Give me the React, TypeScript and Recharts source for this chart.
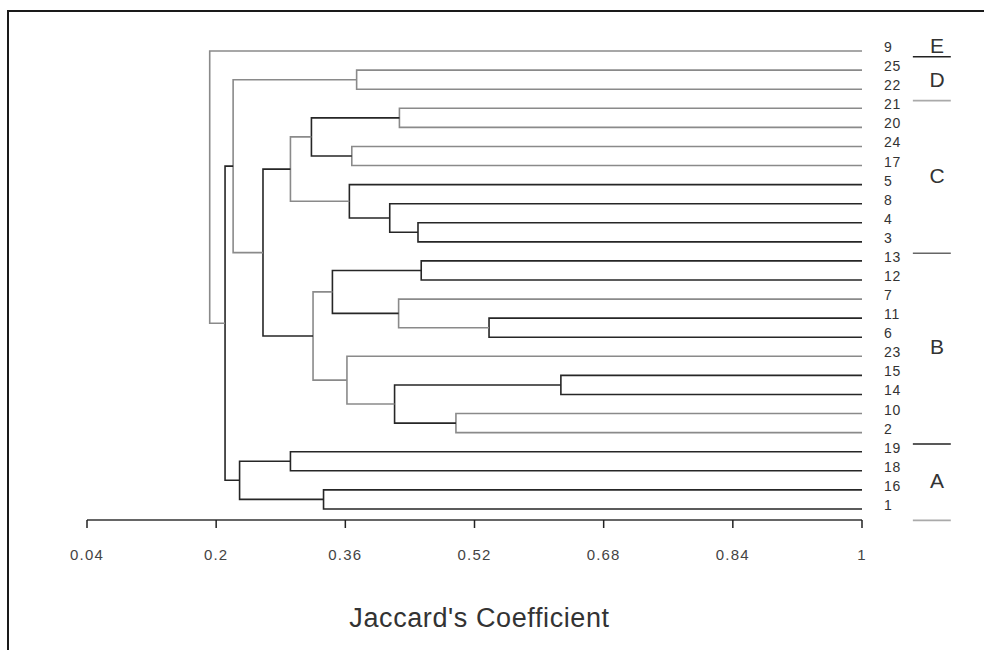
import React from 'react';
import {
  ComposedChart,
  Line,
  XAxis,
  YAxis,
  ReferenceLine,
  ReferenceDot,
  Label,
} from 'recharts';

// leaf order, top to bottom
const leaves = ['9', '25', '22', '21', '20', '24', '17', '5', '8', '4', '3', '13', '12', '7', '11', '6', '23', '15', '14', '10', '2', '19', '18', '16', '1'];

// merge i joins mergeLeft[i] + mergeRight[i] at mergeHeight[i] and makes node `m${i}`
const mergeLeft = ['25', '21', '24', '4', '8', '5', 'm1', 'm6', '13', '11', '7', 'm8', '15', '10', 'm12', '23', 'm11', 'm7', 'm0', '19', '16', 'm19', 'm18', '9'];
const mergeRight = ['22', '20', '17', '3', 'm3', 'm4', 'm2', 'm5', '12', '6', 'm9', 'm10', '14', '2', 'm13', 'm14', 'm15', 'm16', 'm17', '18', '1', 'm20', 'm21', 'm22'];
const mergeHeight = [0.374, 0.427, 0.368, 0.45, 0.415, 0.365, 0.318, 0.292, 0.454, 0.538, 0.426, 0.344, 0.627, 0.497, 0.421, 0.362, 0.32, 0.258, 0.221, 0.292, 0.333, 0.229, 0.211, 0.192];

const xTicks = [0.04, 0.2, 0.36, 0.52, 0.68, 0.84, 1];

// groups on the right: name and index of the last leaf in it
const groupNames = ['E', 'D', 'C', 'B', 'A'];
const groupLastLeaf = [0, 2, 10, 20, 24];

const lightMerges = new Set([0, 1, 2, 7, 10, 13, 15, 16, 18, 23]);
const groupLineColors = ['#222', '#aaa', '#666', '#222', '#aaa'];

const FONT = '"Liberation Sans", Arial, sans-serif';

type Pt = { x: number; y: number };

function buildLinks() {
  const pos: Record<string, Pt> = {};
  leaves.forEach((name, i) => {
    pos[name] = { x: 1, y: i };
  });
  return mergeHeight.map((h, i) => {
    const l = pos[mergeLeft[i]];
    const r = pos[mergeRight[i]];
    pos[`m${i}`] = { x: h, y: (l.y + r.y) / 2 };
    return [
      { x: l.x, y: l.y },
      { x: h, y: l.y },
      { x: h, y: r.y },
      { x: r.x, y: r.y },
    ];
  });
}

const links = buildLinks();

const LeafTick = (props: any) => {
  const { x, y, payload } = props;
  return (
    <text
      x={x + 22}
      y={y - 4}
      dominantBaseline="central"
      fontSize={14}
      letterSpacing={0.8}
      fill="#333"
      fontFamily={FONT}
    >
      {leaves[payload.value]}
    </text>
  );
};

export default function App() {
  const groupStart = groupLastLeaf.map((_, i) => (i === 0 ? 0 : groupLastLeaf[i - 1] + 1));
  return (
    <div style={{ position: 'fixed', left: 0, top: 0, width: 984, height: 650, overflow: 'hidden', background: '#fff' }}>
      <div
        style={{
          position: 'absolute',
          left: 7,
          top: 10,
          width: 1000,
          height: 700,
          border: '2px solid #1a1a1a',
          boxSizing: 'border-box',
        }}
      />
      <div style={{ position: 'absolute', left: 0, top: 0 }}>
        <ComposedChart width={984} height={650} margin={{ top: 40, right: 0, bottom: 20, left: 87 }}>
          <XAxis
            type="number"
            dataKey="x"
            domain={[0.04, 1]}
            ticks={xTicks}
            allowDataOverflow
            height={110}
            tickSize={8}
            tickMargin={21}
            axisLine={{ stroke: '#333', strokeWidth: 1.5 }}
            tickLine={{ stroke: '#222', strokeWidth: 1.5 }}
            tick={{ fontSize: 15, fill: '#444', fontFamily: FONT, letterSpacing: 1.2 }}
            tickFormatter={(v: number) => String(+v.toFixed(2))}
          >
            <Label
              value="Jaccard's Coefficient"
              position="insideBottom"
              offset={3}
              dx={5}
              style={{ fontSize: 27, fill: '#333', fontFamily: FONT, letterSpacing: 0.6 }}
            />
          </XAxis>
          <YAxis
            type="number"
            dataKey="y"
            orientation="right"
            reversed
            domain={[-0.58, 24.58]}
            ticks={leaves.map((_, i) => i)}
            interval={0}
            allowDataOverflow
            width={122}
            axisLine={false}
            tickLine={false}
            tickSize={0}
            tickMargin={0}
            tick={<LeafTick />}
          />
          {links.map((d, i) => (
            <Line
              key={`link-${i}`}
              data={d}
              dataKey="y"
              type="linear"
              stroke={lightMerges.has(i) ? '#8a8a8a' : '#262626'}
              strokeWidth={1.6}
              dot={false}
              activeDot={false}
              isAnimationActive={false}
            />
          ))}
          {groupNames.map((g, i) => (
            <ReferenceLine
              key={`sep-${g}`}
              segment={[
                { x: 1.063, y: groupLastLeaf[i] + (i === 0 ? 0.3 : 0.6) },
                { x: 1.11, y: groupLastLeaf[i] + (i === 0 ? 0.3 : 0.6) },
              ]}
              stroke={groupLineColors[i]}
              strokeWidth={1.6}
              ifOverflow="visible"
            />
          ))}
          {groupNames.map((g, i) => (
            <ReferenceDot
              key={`grp-${g}`}
              x={1.093}
              y={i === 0 ? -0.3 : (groupStart[i] + groupLastLeaf[i]) / 2}
              r={0}
              fill="none"
              stroke="none"
              ifOverflow="visible"
              label={{ value: g, position: 'center', fontSize: 21, fill: '#333', fontFamily: FONT }}
            />
          ))}
        </ComposedChart>
      </div>
    </div>
  );
}
